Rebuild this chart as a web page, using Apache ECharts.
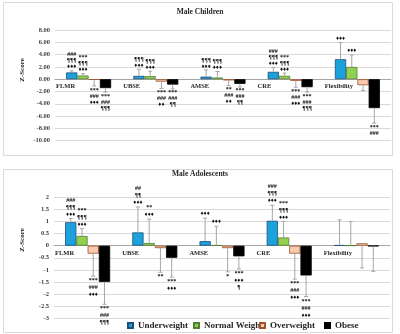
<!DOCTYPE html>
<html>
<head>
<meta charset="utf-8">
<script src="https://cdn.jsdelivr.net/npm/echarts@6/dist/echarts.min.js"></script>
<style>
html, body { margin: 0; padding: 0; background: #fff; }
#chart { width: 400px; height: 334px; }
</style>
</head>
<body>
<div id="chart"></div>
<script>
var categories = ['FLMR', 'UBSE', 'AMSE', 'CRE', 'Flexibility']
var groups = ['Underweight', 'Normal Weight', 'Overweight', 'Obese']

// Male Children: mean z-score and signed SD (up / down)
var childUnder = [1.1, 0.54, 0.42, 1.2, 3.25]
var childUnderSd = [0.25, 1.08, 1.08, 0.7, 2.7]
var childNormal = [0.6, 0.5, 0.27, 0.55, 2.0]
var childNormalSd = [0.3, 0.8, 0.98, 0.45, 1.95]
var childOver = [-0.1, -0.4, -0.2, -0.28, -0.98]
var childOverSd = [-1.0, -1.1, -0.85, -1.02, -0.87]
var childObese = [-1.45, -0.88, -0.76, -1.3, -4.7]
var childObeseSd = [-0.65, -0.7, -0.5, -0.8, -2.45]

// Male Adolescents
var adolUnder = [0.97, 0.55, 0.19, 1.03, 0.02]
var adolUnderSd = [0.15, 1.05, 0.95, 0.64, 1.05]
var adolNormal = [0.4, 0.11, 0.02, 0.34, 0.01]
var adolNormalSd = [0.3, 0.99, 0.78, 0.66, 0.99]
var adolOver = [-0.33, -0.1, -0.1, -0.33, 0.1]
var adolOverSd = [-0.93, -1.0, -0.98, -1.05, -1.02]
var adolObese = [-1.5, -0.5, -0.44, -1.23, -0.02]
var adolObeseSd = [-0.92, -0.8, -0.52, -0.87, -1.04]

// significance marks, top row first
var childUnderNotes = [['###', '¶¶¶', '♦♦♦'], ['¶¶¶', '♦♦♦'], ['¶¶¶', '♦♦♦'], ['###', '¶¶¶', '♦♦♦'], ['♦♦♦']]
var childNormalNotes = [['***', '¶¶¶', '♦♦♦'], ['¶¶¶', '♦♦♦'], ['¶¶¶', '♦♦♦'], ['***', '¶¶¶', '♦♦♦'], ['♦♦♦']]
var childOverNotes = [['***', '###', '♦♦♦'], ['***', '###', '♦♦'], ['**', '###', '♦♦'], ['***', '###', '♦♦♦'], []]
var childObeseNotes = [['***', '###', '¶¶¶'], ['***', '###', '¶¶'], ['***', '###', '¶¶'], ['***', '###', '¶¶¶'], ['***', '###']]
var adolUnderNotes = [['###', '¶¶¶', '♦♦♦'], ['##', '¶¶', '♦♦♦'], ['♦♦♦'], ['###', '¶¶¶', '♦♦♦'], []]
var adolNormalNotes = [['***', '¶¶¶', '♦♦♦'], ['**', '♦♦♦'], ['♦♦♦'], ['***', '¶¶¶', '♦♦♦'], []]
var adolOverNotes = [['***', '###', '♦♦♦'], ['**'], ['*'], ['***', '###', '♦♦♦'], []]
var adolObeseNotes = [['***', '###', '¶¶¶'], ['***', '♦♦♦'], ['***', '♦♦♦', '¶'], ['***', '###', '♦♦♦'], []]

var childTicks = { min: -10, max: 8, interval: 2 }
var adolTicks = { min: -3, max: 2, interval: 0.5 }

var serif = 'Liberation Serif'
var colors = ['#1ba1dc', '#92d050', '#f8cbad', '#000000']
var borders = ['#1f4e79', '#507e32', '#a0522d', '#000000']
var legendLeft = [127, 193, 259, 324]

function barSeries(k, gi, values) {
  return {
    type: 'bar',
    name: groups[k],
    xAxisIndex: gi,
    yAxisIndex: gi,
    data: values,
    barGap: '0%',
    barCategoryGap: '33%',
    itemStyle: { color: colors[k], borderColor: borders[k], borderWidth: 0.8 }
  }
}

function sdSeries(k, gi, values, sds, notes, lh) {
  return {
    type: 'custom',
    name: groups[k] + ' SD',
    xAxisIndex: gi,
    yAxisIndex: gi,
    silent: true,
    z: 5,
    data: values.map(function (v, i) { return [i, v, sds[i]] }),
    renderItem: function (params, api) {
      var i = api.value(0)
      var v = api.value(1)
      var e = api.value(2)
      var band = api.size([1, 0])[0]
      var bw = band * 0.67 / 4
      var x = api.coord([i, 0])[0] + (k - 1.5) * bw
      var y0 = api.coord([i, v])[1]
      var y1 = api.coord([i, v + e])[1]
      var up = e > 0
      var line = { stroke: '#a6a6a6', lineWidth: 1 }
      return {
        type: 'group',
        children: [
          { type: 'line', shape: { x1: x, y1: y0, x2: x, y2: y1 }, style: line },
          { type: 'line', shape: { x1: x - 2, y1: y1, x2: x + 2, y2: y1 }, style: line },
          {
            type: 'text',
            x: x,
            y: up ? y1 - 1 : y1 + 1,
            style: {
              text: notes[params.dataIndex].join('\n'),
              align: 'center',
              verticalAlign: up ? 'bottom' : 'top',
              fontSize: 6,
              lineHeight: lh,
              fontFamily: serif,
              fontWeight: 'bold',
              fill: '#111'
            }
          }
        ]
      }
    }
  }
}

// category names sit just under the zero line, at the left edge of each band
function nameSeries(gi) {
  return {
    type: 'custom',
    xAxisIndex: gi,
    yAxisIndex: gi,
    silent: true,
    z: 6,
    data: categories.map(function (c, i) { return [i, 0] }),
    renderItem: function (params, api) {
      var band = api.size([1, 0])[0]
      var p = api.coord([api.value(0), 0])
      return {
        type: 'text',
        x: p[0] - band / 2 + 1,
        y: p[1] + 4,
        style: {
          text: categories[params.dataIndex],
          align: 'left',
          verticalAlign: 'top',
          fontSize: 6.5,
          fontFamily: serif,
          fontWeight: 'bold',
          fill: '#262626'
        }
      }
    }
  }
}

function catAxis(gi) {
  return {
    type: 'category',
    gridIndex: gi,
    data: categories,
    axisLine: { onZero: true, lineStyle: { color: '#a6a6a6', width: 1 } },
    axisTick: { show: false },
    axisLabel: { show: false }
  }
}

function valueAxis(gi, ticks, fmt) {
  return {
    type: 'value',
    gridIndex: gi,
    min: ticks.min,
    max: ticks.max,
    interval: ticks.interval,
    axisLine: { show: false },
    axisTick: { show: false },
    splitLine: { lineStyle: { color: '#d9d9d9', width: 1 } },
    axisLabel: {
      margin: 5,
      formatter: fmt,
      fontFamily: serif,
      fontWeight: 'bold',
      fontSize: 6.5,
      color: '#404040'
    }
  }
}

var titleStyle = { fontFamily: serif, fontWeight: 'bold', fontSize: 7.5, color: '#262626' }
var nameStyle = { text: 'Z-Score', align: 'center', verticalAlign: 'middle', fontFamily: serif, fontWeight: 'bold', fontSize: 7, fill: '#262626' }

// one legend box per entry so each sits where the reference has it
var legends = groups.map(function (g, k) {
  return {
    data: [g],
    left: legendLeft[k],
    top: 321,
    icon: 'rect',
    itemWidth: 5,
    itemHeight: 5,
    padding: 0,
    textStyle: { fontFamily: serif, fontWeight: 'bold', fontSize: 9, color: '#262626' }
  }
})

var chart = echarts.init(document.getElementById('chart'))
chart.setOption({
  animation: false,
  title: [
    { text: 'Male Children', left: 'center', top: 8, padding: 0, textStyle: titleStyle },
    { text: 'Male Adolescents', left: 'center', top: 170, padding: 0, textStyle: titleStyle }
  ],
  legend: legends,
  graphic: [
    { type: 'rect', shape: { x: 3.5, y: 2.5, width: 389, height: 153 }, style: { fill: 'none', stroke: '#d9d9d9' } },
    { type: 'rect', shape: { x: 3.5, y: 169.5, width: 389, height: 163 }, style: { fill: 'none', stroke: '#d9d9d9' } },
    { type: 'text', x: 22, y: 70, rotation: Math.PI / 2, style: nameStyle },
    { type: 'text', x: 22, y: 240, rotation: Math.PI / 2, style: nameStyle }
  ],
  grid: [
    { left: 55, right: 9, top: 30, height: 110.7 },
    { left: 54, right: 10, top: 197.3, height: 121 }
  ],
  xAxis: [catAxis(0), catAxis(1)],
  yAxis: [
    valueAxis(0, childTicks, function (v) { return v.toFixed(2) }),
    valueAxis(1, adolTicks, function (v) { return String(v) })
  ],
  series: [
    barSeries(0, 0, childUnder),
    barSeries(1, 0, childNormal),
    barSeries(2, 0, childOver),
    barSeries(3, 0, childObese),
    barSeries(0, 1, adolUnder),
    barSeries(1, 1, adolNormal),
    barSeries(2, 1, adolOver),
    barSeries(3, 1, adolObese),
    sdSeries(0, 0, childUnder, childUnderSd, childUnderNotes, 6),
    sdSeries(1, 0, childNormal, childNormalSd, childNormalNotes, 6),
    sdSeries(2, 0, childOver, childOverSd, childOverNotes, 6),
    sdSeries(3, 0, childObese, childObeseSd, childObeseNotes, 6),
    sdSeries(0, 1, adolUnder, adolUnderSd, adolUnderNotes, 7),
    sdSeries(1, 1, adolNormal, adolNormalSd, adolNormalNotes, 7),
    sdSeries(2, 1, adolOver, adolOverSd, adolOverNotes, 7),
    sdSeries(3, 1, adolObese, adolObeseSd, adolObeseNotes, 7),
    nameSeries(0),
    nameSeries(1)
  ]
})
</script>
</body>
</html>
